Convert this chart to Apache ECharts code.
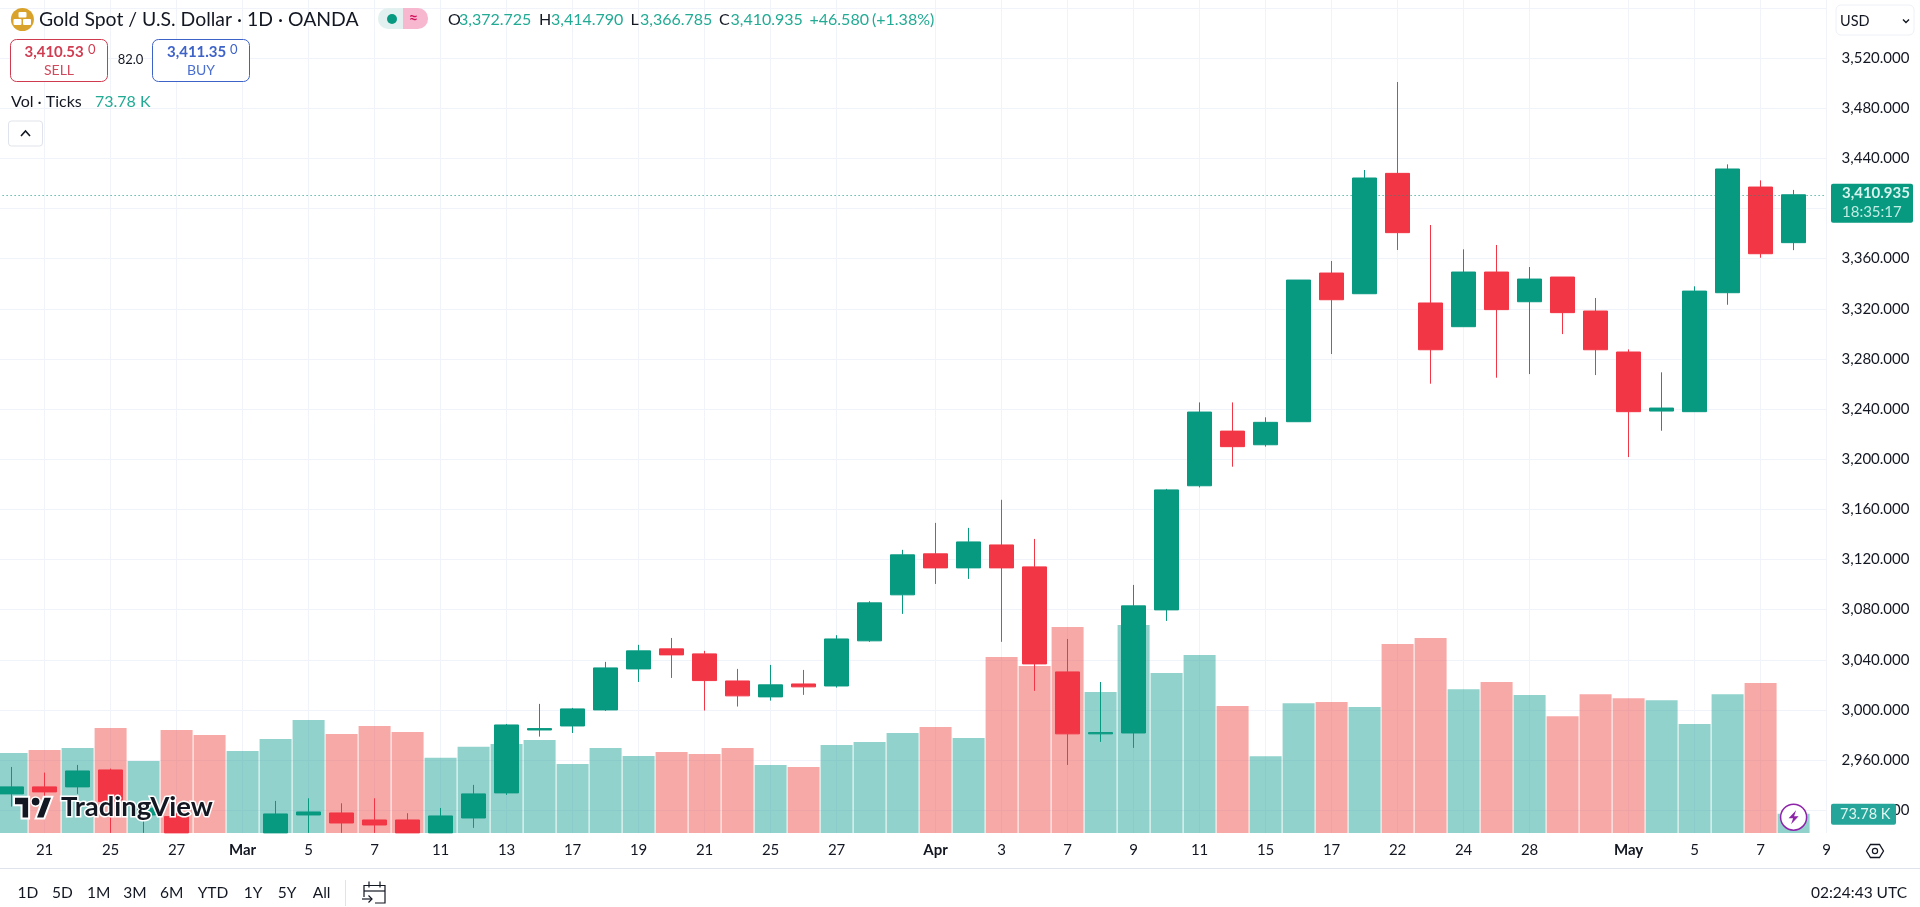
<!DOCTYPE html>
<html><head><meta charset="utf-8">
<style>html,body{margin:0;padding:0;background:#fff;overflow:hidden}#c{width:1920px;height:907px}</style>
<script src="https://cdn.jsdelivr.net/npm/echarts@6/dist/echarts.min.js"></script>
</head><body><div id="c"></div>
<script>
const categories = ['Feb 19','Feb 20','Feb 21','Feb 24','Feb 25','Feb 26','Feb 27','Feb 28','Mar 3','Mar 4','Mar 5','Mar 6','Mar 7','Mar 10','Mar 11','Mar 12','Mar 13','Mar 14','Mar 17','Mar 18','Mar 19','Mar 20','Mar 21','Mar 24','Mar 25','Mar 26','Mar 27','Mar 28','Mar 31','Apr 1','Apr 2','Apr 3','Apr 4','Apr 7','Apr 8','Apr 9','Apr 10','Apr 11','Apr 14','Apr 15','Apr 16','Apr 17','Apr 21','Apr 22','Apr 23','Apr 24','Apr 25','Apr 28','Apr 29','Apr 30','May 1','May 2','May 5','May 6','May 7','May 8','May 9'];
const tickLabels = {'Feb 21':'21','Feb 25':'25','Feb 27':'27','Mar 3':'Mar','Mar 5':'5','Mar 7':'7','Mar 11':'11','Mar 13':'13','Mar 17':'17','Mar 19':'19','Mar 21':'21','Mar 25':'25','Mar 27':'27','Apr 1':'Apr','Apr 3':'3','Apr 7':'7','Apr 9':'9','Apr 11':'11','Apr 15':'15','Apr 17':'17','Apr 22':'22','Apr 24':'24','Apr 28':'28','May 1':'May','May 5':'5','May 7':'7','May 9':'9'};
const opens = [null,2933,2938.6,2938.6,2952.1,2916.2,2914.9,null,null,2901.9,2916.2,2917.8,2912.2,2912.2,2901.9,2913.8,2933.8,2984,2987.2,3000,3032.7,3048.7,3044.7,3023.1,3010.4,3020.7,3019.1,3055.1,3091.8,3124.5,3113.3,3131.6,3114.1,3030.3,2980.9,2981.6,3079.8,3178.8,3222.4,3211.5,3229.9,3348.5,3332,3428,3324.6,3305.7,3349.3,3325.6,3345.3,3318.2,3285.5,3238.4,3237.9,3332.8,3417.1,3372.725,null];
const closes = [null,2938.6,2934.6,2951.3,2926.9,2921.6,2901.9,null,null,2917,2918.6,2909.8,2908.2,2901.9,2915.4,2933,2988,2985.1,3000.8,3033.5,3047.1,3043.9,3023.4,3011.2,3020,3018.4,3056.6,3085.4,3123.7,3113.3,3134,3113.3,3036.7,2980.9,2981.9,3083,3175.5,3237.6,3210,3229.4,3342.9,3327.2,3424.3,3380.7,3287.3,3349.3,3319.3,3343.7,3316.9,3287.3,3237.9,3240.8,3334.1,3431.5,3363.9,3410.935,null];
const lows = [null,2922.9,2925.5,2933,2901.9,2901.9,2901.9,null,null,2901.9,2901.9,2901.9,2901.9,2901.9,2901.9,2905.9,2932.2,2978.7,2981.6,2999.2,3022.3,3025.5,2999.5,3002.7,3007.4,3012,3017.8,3054.3,3076.6,3100.5,3104.5,3054.3,3015.2,2956.1,2974.5,2969.7,3071,3177.5,3194,3210,3229.9,3283.9,3332,3366.9,3260.2,3305.7,3265,3267.9,3299.8,3267.1,3201.7,3222.7,3237.9,3323.2,3360.7,3366.785,null];
const highs = [null,2954.5,2950,2956.1,2953.2,2925.5,2918,null,null,2927.4,2929.5,2925.5,2929.5,2917.6,2921.8,2940.2,2988.8,3004.8,3001.6,3038.3,3051.9,3057.4,3047.1,3032.7,3035.9,3031.9,3059.6,3086.7,3127.7,3149.2,3145.2,3167.6,3136.4,3056.6,3022.3,3099.7,3176.3,3245.3,3245.3,3233.4,3342.9,3358.1,3430.7,3500.9,3386.8,3367.4,3370.9,3353.3,3345.3,3328.6,3287.6,3269.3,3337.9,3435.2,3422.4,3414.79,null];
const volumesK = [null,306,317,325,401,275,393,374,313,359,432,378,409,386,287,329,340,355,264,325,294,309,302,325,260,252,336,348,382,405,363,672,638,787,539,795,611,680,485,293,496,500,481,722,745,549,577,527,446,530,515,507,416,530,573,73.78,null];
const volumeUp = [0,1,0,1,0,1,0,0,1,1,1,0,0,0,1,1,1,1,1,1,1,0,0,0,1,0,1,1,1,0,1,0,0,0,1,1,1,1,0,1,1,0,1,0,0,1,0,1,0,0,0,1,1,1,0,1,0];
const priceTicks = {min:2920,max:3560,step:40};
const lastClose = 3410.935;
const ranges = ['1D','5D','1M','3M','6M','YTD','1Y','5Y','All'];

const UI = 'Lato, "Noto Sans", sans-serif';
const GREEN='#089981', RED='#F23645', INK='#131722', GRID='#F0F3FA', TEAL='#22AB94';
const gridL=-21.4, plotW=1848, plotBottom=833;

const chart = echarts.init(document.getElementById('c'),null,{renderer:'canvas'});
const showTick = (i)=> tickLabels[categories[i]]!==undefined;

function T(text,x,y,font,fill,align,extra){return Object.assign({type:'text',z:100,silent:true,style:{text,x,y,font,fill,align:align||'left',textAlign:align||'left',verticalAlign:'middle',textVerticalAlign:'middle'}},extra||{});}
function R(x,y,w,h,fill,stroke,r,lw){return {type:'rect',z:99,silent:true,shape:{x,y,width:w,height:h,r:r||0},style:{fill:fill||'transparent',stroke:stroke||null,lineWidth:lw||1}};}
function P(points,stroke,lw){return {type:'polyline',z:100,silent:true,shape:{points},style:{stroke,lineWidth:lw||1.5,fill:null}};}

chart.setOption({
  animation:false,
  backgroundColor:'#fff',
  grid:[
    {left:gridL,top:7.9,width:plotW,height:802.3,containLabel:false,outerBoundsMode:'none'},
    {left:gridL,top:0,width:plotW,height:plotBottom,containLabel:false,outerBoundsMode:'none'}
  ],
  xAxis:[
    {type:'category',gridIndex:0,data:categories,boundaryGap:false,show:false},
    {type:'category',gridIndex:1,data:categories,boundaryGap:false,
     axisLine:{show:false},axisTick:{show:false},
     splitLine:{show:true,interval:(i)=>showTick(i),lineStyle:{color:GRID,width:1}},
     axisLabel:{interval:(i)=>showTick(i),margin:10,hideOverlap:false,showMinLabel:true,showMaxLabel:true,
       fontFamily:UI,fontSize:15,color:INK,
       formatter:(v)=>{const s=tickLabels[v];return /[A-Za-z]/.test(s)?'{b|'+s+'}':s;},
       rich:{b:{fontFamily:UI,fontSize:15,fontWeight:'bold',color:INK}}}}
  ],
  yAxis:[
    {type:'value',gridIndex:0,position:'right',min:priceTicks.min,max:priceTicks.max,interval:priceTicks.step,scale:true,
     axisLine:{show:false},axisTick:{show:false},
     splitLine:{show:true,lineStyle:{color:GRID,width:1}},
     axisLabel:{margin:15,fontFamily:UI,fontSize:15,color:INK,align:'left',showMaxLabel:false,
       formatter:(v)=>v>=priceTicks.max?'':v.toLocaleString('en-US',{minimumFractionDigits:3,maximumFractionDigits:3})}},
    {type:'value',gridIndex:1,min:0,max:3182,show:false,splitLine:{show:false}}
  ],
  series:[
    {type:'bar',name:'Vol',xAxisIndex:1,yAxisIndex:1,barWidth:32,z:1,silent:true,
     data:volumesK.map((v,i)=>({value:v===null?'-':v,itemStyle:{color:volumeUp[i]?'rgba(38,166,154,0.5)':'rgba(239,83,80,0.5)'}}))},
    {type:'candlestick',name:'XAUUSD',xAxisIndex:0,yAxisIndex:0,barWidth:24,clip:false,z:2,silent:true,
     itemStyle:{color:GREEN,color0:RED,borderColor:GREEN,borderColor0:RED,borderWidth:1},
     data:categories.map((c,i)=>opens[i]===null?['-','-','-','-']:[opens[i],closes[i],lows[i],highs[i]]),
     markLine:{silent:true,symbol:'none',animation:false,label:{show:false},
       lineStyle:{color:GREEN,type:[1,3],width:1},data:[{yAxis:lastClose}]}}
  ]
});

const lastIdx = categories.indexOf('May 8');
const py = chart.convertToPixel({yAxisIndex:0},lastClose);
const vx = chart.convertToPixel({xAxisIndex:1},lastIdx);
const vy = chart.convertToPixel({yAxisIndex:1},volumesK[lastIdx]);
const g=[];
// header
g.push({type:'circle',z:99,silent:true,shape:{cx:22.4,cy:19.5,r:11.5},style:{fill:'#D9A22A'}});
g.push(R(18.5,12,8,5.5,'#fff',null,1),R(13.5,19,8,6,'#fff',null,1),R(23,19,8,6,'#fff',null,1));
g.push(T('Gold Spot / U.S. Dollar · 1D · OANDA',39,20,'19.4px '+UI,INK));
g.push(R(378,8,25,21,'#E2F1EF',null,[10,0,0,10]),R(403,8,25,21,'#F7B8CF',null,[0,10,10,0]));
g.push({type:'circle',z:100,silent:true,shape:{cx:392,cy:19,r:5},style:{fill:GREEN}});
g.push(T('≈',413.5,18,'bold 16px '+UI,'#D3125E','center'));
[['O',448,'3,372.725',459],['H',539,'3,414.790',551],['L',630.5,'3,366.785',640],['C',719,'3,410.935',730.5]].forEach(a=>{
  g.push(T(a[0],a[1],20,'16px '+UI,INK),T(a[2],a[3],20,'16px '+UI,TEAL));});
g.push(T('+46.580',809.5,20,'16px '+UI,TEAL),T('(+1.38%)',872,20,'16px '+UI,TEAL));
// sell / buy
g.push(R(10.5,39.5,97,42,'#fff','#CF3A4F',6));
g.push(T('3,410.53',24.5,52,'bold 15px '+UI,'#D03C50'),T('0',88,50,'13px '+UI,'#D03C50'),T('SELL',59,70,'14px '+UI,'#D0495C','center'));
g.push(T('82.0',130.5,60,'13px '+UI,INK,'center'));
g.push(R(152.5,39.5,97,42,'#fff','#3E63C8',6));
g.push(T('3,411.35',167,52,'bold 15px '+UI,'#3E63C8'),T('0',230,50,'13px '+UI,'#3E63C8'),T('BUY',201,70,'14px '+UI,'#4A6FCE','center'));
g.push(T('Vol · Ticks',11,102,'16px '+UI,INK),T('73.78 K',95,102,'16px '+UI,TEAL));
g.push(R(8.5,121,34,25,'#fff','#E0E3EB',3));
g.push(P([[21,136],[25.5,131],[30,136]],INK,1.6));
// price scale top button
g.push(R(1836,5,78,30,'#fff','#EEF0F5',5));
g.push(T('USD',1840,21,'14.5px '+UI,INK));
g.push(P([[1903,19.5],[1906,22.5],[1909,19.5]],INK,1.4));
// price badge (position from the price scale)
g.push(R(1831,py-11,82,39,GREEN,null,2));
g.push(T('3,410.935',1842,py-1.5,'bold 15px '+UI,'#D6F5EE'),T('18:35:17',1842,py+17,'15px '+UI,'#BFEDE3'));
// volume badge
g.push(R(1831,vy-10,65,21,'#26A69A',null,2));
g.push(T('73.78 K',1840,vy+1,'14.5px '+UI,'#E0F7F3'));
// lightning icon over last volume bar
g.push({type:'circle',z:99,silent:true,shape:{cx:vx,cy:vy+3.5,r:13},style:{fill:'#fff',stroke:'#8E24AA',lineWidth:1.5}});
g.push({type:'polygon',z:100,silent:true,x:vx,y:vy+3.5,shape:{points:[[2.5,-7],[-5,1],[-0.5,1],[-2.5,7],[5,-1],[0.5,-1]]},style:{fill:'#8E24AA'}});
// watermark logo: outline halos then shapes
const wmX=14, wmY=792, wmSX=1.08, wmSY=1.2;
const wmPt=(a)=>a.map(p=>[wmX+p[0]*wmSX,wmY+p[1]*wmSY]);
[[[14,22],[7,22],[7,11],[0,11],[0,4],[14,4]],[[28,22],[20,22],[27.5,4],[35.5,4]]].forEach(pts=>{
  g.push({type:'polygon',z:98,silent:true,shape:{points:wmPt(pts)},style:{fill:'#131722',stroke:'#fff',lineWidth:2}});});
g.push({type:'circle',z:98,silent:true,shape:{cx:wmX+20*wmSX,cy:wmY+8*wmSY,r:4.6},style:{fill:'#131722',stroke:'#fff',lineWidth:1.5}});
g.push({type:'text',z:98,silent:true,style:{text:'TradingView',x:61,y:807,font:'bold 27.5px '+UI,fill:'#131722',stroke:'#fff',lineWidth:3,align:'left',textAlign:'left',verticalAlign:'middle',textVerticalAlign:'middle'}});
// gear
g.push({type:'polygon',z:100,silent:true,shape:{points:[[1866.5,851],[1870.5,844.5],[1879.5,844.5],[1883.5,851],[1879.5,857.5],[1870.5,857.5]]},style:{fill:null,stroke:INK,lineWidth:1.3}});
g.push({type:'circle',z:100,silent:true,shape:{cx:1875,cy:851,r:2.6},style:{fill:null,stroke:INK,lineWidth:1.2}});
// footer
g.push(R(0,868,1920,39,'#fff'));
g.push({type:'line',z:100,silent:true,shape:{x1:0,y1:868.5,x2:1920,y2:868.5},style:{stroke:'#E0E3EB',lineWidth:1}});
const rangeX=[27.8,62.4,98.8,135,171.8,213,253,287,321.6];
ranges.forEach((r,i)=>g.push(T(r,rangeX[i],893,'15.5px '+UI,INK,'center')));
g.push({type:'line',z:100,silent:true,shape:{x1:345.5,y1:880,x2:345.5,y2:906},style:{stroke:'#E0E3EB',lineWidth:1}});
g.push(P([[364,897],[364,885.5],[385,885.5],[385,903],[375,903]],INK,1.2),P([[364,891],[385,891]],INK,1.2),P([[369,881.5],[369,887.5]],INK,1.2),P([[380,881.5],[380,887.5]],INK,1.2),P([[362,899],[372,899]],INK,1.2),P([[368.5,895.5],[372,899],[368.5,902.5]],INK,1.2));
g.push(T('02:24:43 UTC',1907,893,'15.5px '+UI,INK,'right'));
chart.setOption({graphic:{elements:g}});
</script></body></html>
